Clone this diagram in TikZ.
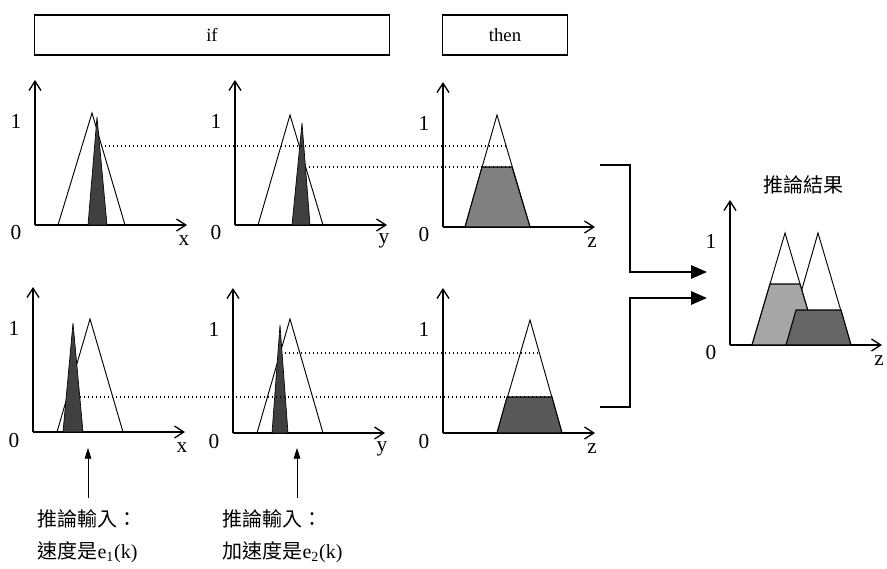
\documentclass[tikz,border=0pt]{standalone}
\usepackage{fontspec}
\setmainfont{Liberation Serif}
\newfontfamily\cjk{Noto Sans CJK TC}
\usetikzlibrary{positioning,arrows.meta,calc}

\begin{document}
\begin{tikzpicture}[
  x=0.75pt, y=-0.75pt,
  every node/.style={font=\fontsize{16}{18}\selectfont, inner sep=1pt},
  head/.style={rectangle, draw, line width=1.1pt, minimum height=30pt, inner sep=0pt, font=\fontsize{14}{16}\selectfont},
  axis/.style={line width=1pt, -{Straight Barb[length=7pt,width=9pt]}},
  tri/.style={line width=0.7pt},
  input/.style={fill=black!75, draw=black, line width=0.5pt},
  cut/.style={fill=black!55, draw=black, line width=0.8pt},
  level/.style={dotted, line width=1pt},
  feed/.style={line width=1.6pt, -{Triangle[length=12pt,width=10pt]}},
  hint/.style={line width=0.6pt, -{Triangle[length=8pt,width=5pt]}},
  note/.style={font=\cjk\fontsize{15}{24}\selectfont, align=left, anchor=west},
]
  \useasboundingbox (0,0) rectangle (887,568);

  % rule headers
  \node[head, minimum width=266pt] (ifbox) at (212,35) {if};
  \node[head, minimum width=94pt] (thenbox) at (505,35) {then};

  % axes of every plot
  \foreach \ox/\oy/\lab [count=\i] in {35/225/x, 235/225/y, 443/227/z, 33/432/x, 233/433/y, 443/433/z, 730/345/z} {
    \draw[axis] (\ox,\oy) -- (\ox,\oy-145);
    \draw[axis] (\ox,\oy) -- (\ox+152,\oy);
    \node (one\i) at (\ox-19,\oy-104) {1};
    \node (zero\i) at (\ox-19,\oy+8) {0};
    \node (var\i) at (\ox+149,\oy+16) {\lab};
  }

  % first rule
  \draw[tri] (58,225) -- (92,113) -- (125,225);
  \draw[input] (88,225) -- (97,117) -- (107,225) -- cycle;
  \draw[tri] (258,225) -- (290,115) -- (323,225);
  \draw[input] (292,225) -- (302,123) -- (310,225) -- cycle;
  \draw[tri] (465,227) -- (497,115) -- (530,227);
  \draw[cut, fill=black!50] (465,227) -- (482,167) -- (512,167) -- (530,227) -- cycle;
  \draw[level] (101,146) -- (507,146);
  \draw[level] (305,167) -- (512,167);

  % second rule
  \draw[tri] (57,432) -- (90,319) -- (123,432);
  \draw[input] (63,432) -- (73,323) -- (83,432) -- cycle;
  \draw[tri] (257,433) -- (290,319) -- (323,433);
  \draw[input] (272,433) -- (280,325) -- (288,433) -- cycle;
  \draw[tri] (497,433) -- (530,320) -- (562,433);
  \draw[cut, fill=black!65] (497,433) -- (507,397) -- (552,397) -- (562,433) -- cycle;
  \draw[level] (80,397) -- (552,397);
  \draw[level] (285,353) -- (539,353);

  % inputs
  \node[note] (noteA) at (36,536) {推論輸入：\\速度是{\rmfamily e\textsubscript{1}(k)}};
  \node[note] (noteB) at (221,536) {推論輸入：\\加速度是{\rmfamily e\textsubscript{2}(k)}};
  \coordinate (tailA) at (88,498);
  \coordinate (tipA) at (88,448);
  \coordinate (tailB) at (297,498);
  \coordinate (tipB) at (297,448);
  \draw[hint] (tailA) -- (tipA);
  \draw[hint] (tailB) -- (tipB);

  % combination
  \coordinate (ruleA) at (600,165);
  \coordinate (ruleB) at (600,407);
  \coordinate (inA) at (707,272);
  \coordinate (inB) at (707,298);
  \draw[feed] (ruleA) -| (630,272) -- (inA);
  \draw[feed] (ruleB) -| (630,298) -- (inB);

  % result
  \node[font=\cjk\fontsize{15}{18}\selectfont] (result) at (803,185) {推論結果};
  \draw[tri] (752,345) -- (785,233) -- (818,345);
  \draw[tri] (786,345) -- (818,233) -- (851,345);
  \draw[cut, fill=black!35] (752,345) -- (770,284) -- (800,284) -- (818,345) -- cycle;
  \draw[cut, fill=black!60] (786,345) -- (796,310) -- (841,310) -- (851,345) -- cycle;
\end{tikzpicture}
\end{document}
